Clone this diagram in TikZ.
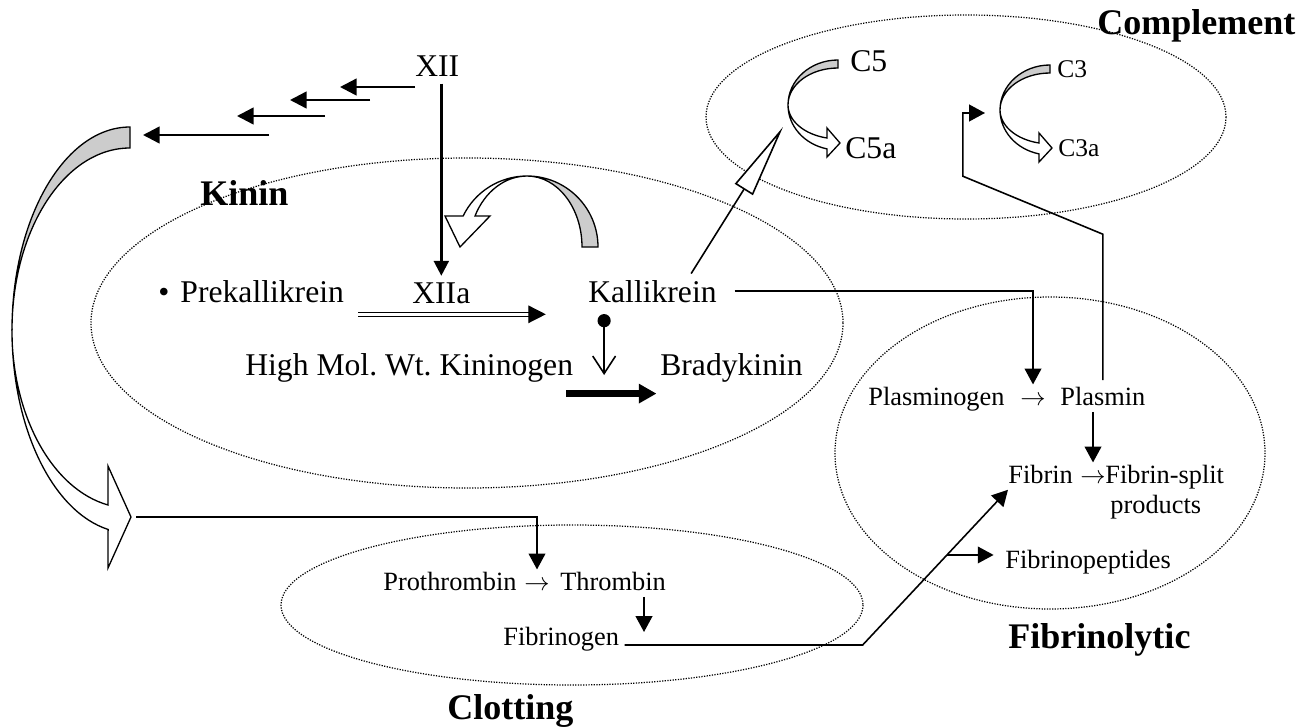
\documentclass[tikz,border=0pt]{standalone}
\usepackage{fontspec}
\setmainfont{Liberation Serif}
\usetikzlibrary{arrows.meta,calc}

\tikzset{
  txt/.style={inner xsep=0pt, inner ysep=3.5pt, anchor=base west, font=\fontsize{18}{21}\selectfont},
  sml/.style={txt, font=\fontsize{15}{18}\selectfont},
  csm/.style={txt, font=\fontsize{14.5}{17}\selectfont},
  sym/.style={sml, text height=8pt},
  ttl/.style={txt, font=\fontsize{20.5}{24}\selectfont\bfseries},
  zone/.style={line width=0.7pt, dash pattern=on 0.7pt off 0.8pt},
  link/.style={line width=0.9pt, -{Triangle[length=9pt,width=9.5pt]}},
  stair/.style={line width=1.4pt, -{Triangle[length=9.5pt,width=9.5pt]}},
  fat/.style={line width=4pt, -{Triangle[length=10pt,width=10.5pt]}},
  dbl/.style={double, line width=0.8pt, double distance=1.4pt, -{Triangle[length=10pt,width=10pt]}},
  hollow/.style={line width=0.9pt, -{Triangle[length=42pt,width=12pt,fill=white]}},
  pin/.style={line width=0.9pt, {Circle[length=7.5pt]}-{Straight Barb[length=10pt,width=13pt]}},
  back/.style={draw, line width=0.75pt, fill=black!20},
  front/.style={draw, line width=0.75pt, fill=white},
}

% small twisted arrow of the complement cascade, centred on #1
\newcommand{\twistarrow}[1]{%
  \begin{scope}[shift={#1}]
    \path[back] (0,-45) arc[start angle=270, end angle=180, x radius=50, y radius=45]
                arc[start angle=180, end angle=270, x radius=50, y radius=37] -- cycle;
    \path[front] (-50,0) arc[start angle=180, end angle=102.7, x radius=50, y radius=45]
                 -- (-11,52) -- (2,38) -- (-11,23) -- (-11,33)
                 arc[start angle=102.7, end angle=180, x radius=50, y radius=34] -- cycle;
  \end{scope}}

\begin{document}
\begin{tikzpicture}[x=0.2mm,y=-0.2mm]
\useasboundingbox (0,0) rectangle (1312,727);

% the four systems
\draw[zone] (467,323) ellipse [x radius=376, y radius=165];
\draw[zone] (966,117) ellipse [x radius=260, y radius=102];
\draw[zone] (1050,453) ellipse [x radius=215, y radius=156];
\draw[zone] (572,605) ellipse [x radius=291, y radius=80];

\node[ttl] (kinin) at (200,205) {Kinin};
\node[ttl] (compl) at (1097,35) {Complement};
\node[ttl] (fibrl) at (1008,648) {Fibrinolytic};
\node[ttl] (clott) at (447,719) {Clotting};

% kinin system
\node[txt] (xii) at (415,77) {XII};
\node[txt] (prek) at (158,302) {\textbullet\hspace{0.35em}Prekallikrein};
\node[txt] (xiia) at (412,303) {XIIa};
\node[txt] (kal) at (588,302) {Kallikrein};
\node[txt] (knn) at (245,375) {High Mol.\ Wt.\ Kininogen};
\node[txt] (brd) at (660,375) {Bradykinin};

% complement
\node[txt] (c5) at (850,72) {C5};
\node[txt] (c5a) at (845,158) {C5a};
\node[csm] (c3) at (1057,78) {C3};
\node[csm] (c3a) at (1058,156) {C3a};
\twistarrow{(838,105)}
\twistarrow{(1050,110)}

% fibrinolytic
\node[sml] (plg) at (868,405) {Plasminogen};
\node[sym] (pgarr) at (1020,405) {$\rightarrow$};
\node[sml] (pls) at (1060,405) {Plasmin};
\node[sml] (fbn) at (1008,483) {Fibrin};
\node[sym] (fbarr) at (1080,483) {$\rightarrow$};
\node[sml] (fsp) at (1105,483) {Fibrin-split};
\node[sml] (prd) at (1110,513) {products};
\node[sml] (fpep) at (1005,568) {Fibrinopeptides};

% clotting
\node[sml] (prth) at (383,590) {Prothrombin};
\node[sym] (thrarr) at (524,590) {$\rightarrow$};
\node[sml] (thr) at (560,590) {Thrombin};
\node[sml] (fbg) at (503,645) {Fibrinogen};

% big curved arrow on the left
\path[back] (130,127) arc[start angle=270, end angle=180, x radius=118, y radius=203]
            arc[start angle=180, end angle=270, x radius=118, y radius=182] -- cycle;
\path[front] (12,330) arc[start angle=180, end angle=100.7, x radius=118, y radius=203]
             -- (108,568) -- (131,517) -- (108,466) -- (108,505)
             arc[start angle=100.7, end angle=180, x radius=118, y radius=178] -- cycle;
\coordinate (bigtip) at (131,517);

% feedback arrow over XIIa
\path[back] (598,247) arc[start angle=0, end angle=-90, radius=71]
            arc[start angle=270, end angle=360, x radius=55, y radius=71] -- cycle;
\path[front] (527,176) arc[start angle=270, end angle=205.9, radius=71]
             -- (445,216) -- (460,247) -- (490,216) -- (475,216)
             arc[start angle=205.9, end angle=270, x radius=58, y radius=71] -- cycle;

% cascade from XII
\draw[stair] ([yshift=-2pt]xii.south west) -- ++(-75,0);
\foreach \n/\xa/\xb/\yy in {2/370/290/100, 3/325/237/116, 4/269/143/135} {
  \coordinate (cas\n a) at (\xa,\yy);
  \coordinate (cas\n b) at (\xb,\yy);
  \draw[stair] (cas\n a) -- (cas\n b);
}
\draw[stair, line width=1.4pt, -{Triangle[length=8.5pt,width=8.5pt]}] (xiia.north |- xii.south) -- (xiia.north);

\draw[dbl] ([xshift=8pt,yshift=-7pt]prek.base east) -- ([xshift=-24pt,yshift=-7pt]kal.base west);
\coordinate (pinst) at ($(kal.south west)!0.125!(kal.south east)$);
\draw[pin] ([yshift=-3pt]pinst) -- (pinst |- knn.base);
\draw[fat] ([xshift=-4pt,yshift=-3pt]knn.south east) -- ([xshift=-2pt,yshift=-3pt]brd.south west);

\coordinate (kaltop) at ($(kal.north)!0.6!(kal.north east)$);
\coordinate (c5in) at (783,127);
\draw[hollow] (kaltop) -- (c5in);

% links between the systems
\draw[link, shorten <=10pt] (kal.east) -| (pgarr.north);
\coordinate (c3in) at (985,113);
\draw[link] (pls.north) -- ++(0,-146) -- ++(-140,-58) |- (c3in);
\draw[link] (fbarr.north |- pls.south) -- (fbarr.north);
\draw[link, shorten <=3pt] (bigtip) -| (thrarr.north);
\coordinate (fbgin) at (644,632);
\draw[link] (thr.south -| fbgin) -- (fbgin);
\draw[link] ([xshift=3pt]fbg.base east) -- ++(238,0) -- coordinate[pos=0.58] (split) (fbn.south west);
\draw[link, shorten >=6.5pt] (split) -- (split -| fpep.west);
\end{tikzpicture}
\end{document}
